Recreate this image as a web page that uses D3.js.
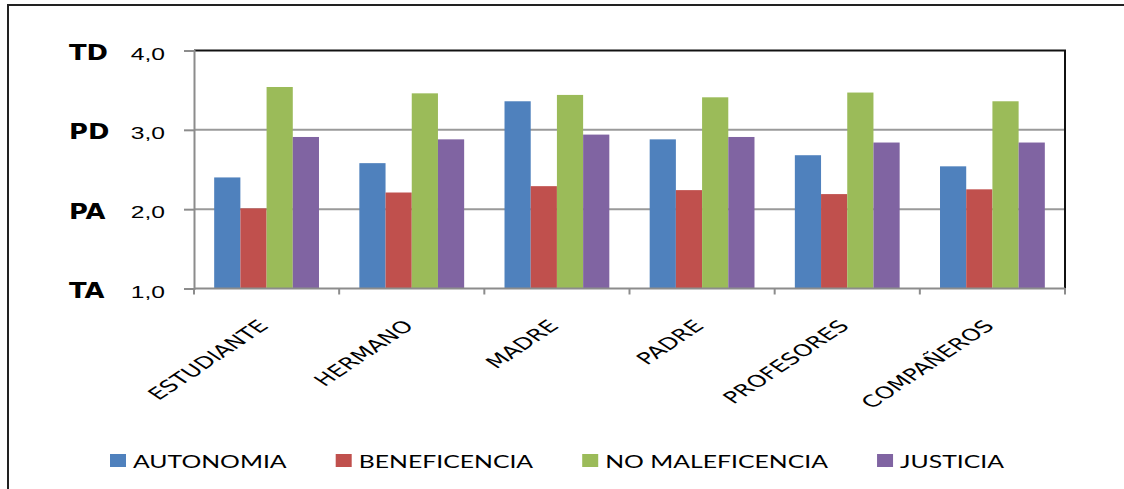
<!DOCTYPE html>
<html>
<head>
<meta charset="utf-8">
<script src="https://cdn.jsdelivr.net/npm/d3@7"></script>
<style>
    body { margin: 0; background: #fff; }
    svg { display: block; font-family: 'DejaVu Sans', sans-serif; }
</style>
</head>
<body>
<div id="chart"></div>
<script>
    const categories = ['ESTUDIANTE', 'HERMANO', 'MADRE', 'PADRE', 'PROFESORES', 'COMPAÑEROS'];
    const seriesNames = ['AUTONOMIA', 'BENEFICENCIA', 'NO MALEFICENCIA', 'JUSTICIA'];
    const autonomia = [2.40, 2.58, 3.36, 2.88, 2.68, 2.54];
    const beneficencia = [2.01, 2.21, 2.29, 2.24, 2.19, 2.25];
    const noMaleficencia = [3.54, 3.46, 3.44, 3.41, 3.47, 3.36];
    const justicia = [2.91, 2.88, 2.94, 2.91, 2.84, 2.84];
    const yTicks = [1, 2, 3, 4];
    const yLevels = ['TA', 'PA', 'PD', 'TD'];

    const colors = ['#4F81BD', '#C0504D', '#9BBB59', '#8064A2'];
    const seriesValues = [autonomia, beneficencia, noMaleficencia, justicia];

    const width = 1124;
    const height = 489;
    const plot = { left: 194, right: 1065, top: 50.5, bottom: 288.5 };

    const svg = d3.select('#chart')
        .append('svg')
        .attr('width', width)
        .attr('height', height);

    svg.append('rect')
        .attr('width', width)
        .attr('height', height)
        .attr('fill', '#fff');

    //outer frame (cropped on right and bottom)
    svg.append('rect')
        .attr('x', 8)
        .attr('y', 5)
        .attr('width', width + 20)
        .attr('height', height + 20)
        .attr('fill', 'none')
        .attr('stroke', '#222')
        .attr('stroke-width', 2);

    //scales
    const x0 = d3.scaleBand()
        .domain(categories)
        .range([plot.left, plot.right])
        .padding(0);
    const x1 = d3.scaleBand()
        .domain(seriesNames)
        .range([0, x0.bandwidth()])
        .paddingInner(0)
        .paddingOuter(0.77);
    const y = d3.scaleLinear()
        .domain([1, 4])
        .range([plot.bottom, plot.top]);

    //grid lines
    svg.append('g')
        .selectAll('line')
        .data(yTicks.slice(1, -1))
        .join('line')
        .attr('x1', plot.left)
        .attr('x2', plot.right)
        .attr('y1', d => y(d))
        .attr('y2', d => y(d))
        .attr('stroke', '#9a9a9a')
        .attr('stroke-width', 2);

    //bars
    const groups = svg.append('g')
        .selectAll('g')
        .data(categories)
        .join('g')
        .attr('transform', d => `translate(${x0(d)},0)`);

    groups.selectAll('rect')
        .data((c, i) => seriesNames.map((s, j) => ({ s, j, v: seriesValues[j][i] })))
        .join('rect')
        .attr('x', d => x1(d.s))
        .attr('y', d => y(d.v))
        .attr('width', x1.bandwidth())
        .attr('height', d => y(1) - y(d.v))
        .attr('fill', d => colors[d.j]);

    //plot area border (top & right)
    svg.append('path')
        .attr('d', `M${plot.left},${plot.top}H${plot.right}V${plot.bottom}`)
        .attr('fill', 'none')
        .attr('stroke', '#111')
        .attr('stroke-width', 2);

    //y axis
    const yAxis = svg.append('g')
        .attr('transform', `translate(${plot.left},0)`)
        .call(
            d3.axisLeft(y)
                .tickValues(yTicks)
                .tickSize(10)
                .tickPadding(19)
                .tickFormat(d => d3.format('.1f')(d).replace('.', ','))
        );
    yAxis.select('.domain').attr('stroke', '#8c8c8c').attr('stroke-width', 2);
    yAxis.selectAll('.tick line').attr('stroke', '#8c8c8c').attr('stroke-width', 2);
    yAxis.selectAll('.tick text')
        .attr('x', null)
        .attr('dy', null)
        .attr('transform', 'translate(-29,8.5) scale(1.45,1)')
        .attr('fill', '#000')
        .style('font-size', '17px');

    //level labels TA / PA / PD / TD
    svg.append('g')
        .selectAll('text')
        .data(yTicks)
        .join('text')
        .attr('transform', d => `translate(69,${y(d) + 9.5}) scale(1.26,1)`)
        .style('font-size', '20.5px')
        .style('font-weight', 'bold')
        .attr('fill', '#000')
        .text((d, i) => yLevels[i]);

    //x axis
    const boundaries = categories.map(c => x0(c)).concat([plot.right]);
    const xAxis = svg.append('g');
    xAxis.append('line')
        .attr('x1', plot.left)
        .attr('x2', plot.right)
        .attr('y1', plot.bottom)
        .attr('y2', plot.bottom)
        .attr('stroke', '#8c8c8c')
        .attr('stroke-width', 2);
    xAxis.selectAll('.xtick')
        .data(boundaries)
        .join('line')
        .attr('class', 'xtick')
        .attr('x1', d => d)
        .attr('x2', d => d)
        .attr('y1', plot.bottom)
        .attr('y2', plot.bottom + 6)
        .attr('stroke', '#8c8c8c')
        .attr('stroke-width', 2);

    //category labels
    xAxis.selectAll('.xlabel')
        .data(categories)
        .join('text')
        .attr('class', 'xlabel')
        .attr('transform', d => `translate(${x0(d) + x0.bandwidth() / 2 + 3},327) scale(1.5,1) rotate(-45)`)
        .attr('text-anchor', 'end')
        .style('font-size', '16.5px')
        .attr('fill', '#000')
        .text(d => d);

    //legend: Calibri-like face, stretched so the row spans the same width as the original
    const legend = svg.append('g');
    const legendLeft = 110;
    const legendRight = 1004;
    const swatchGap = 23;
    const entryGap = 49;
    const labels = seriesNames.map((name, i) => legend.append('text')
        .style('font-family', 'Lato, sans-serif')
        .style('font-size', '17px')
        .attr('fill', '#000')
        .text(name));
    const rawWidths = labels.map(t => t.node().getComputedTextLength());
    const legendScale = (legendRight - legendLeft - seriesNames.length * swatchGap - (seriesNames.length - 1) * entryGap)
        / d3.sum(rawWidths);
    let lx = legendLeft;
    seriesNames.forEach((name, i) => {
        legend.append('rect')
            .attr('x', lx)
            .attr('y', 454)
            .attr('width', 16)
            .attr('height', 13)
            .attr('fill', colors[i]);
        labels[i].attr('transform', `translate(${lx + swatchGap},468) scale(${legendScale},1)`);
        lx += swatchGap + rawWidths[i] * legendScale + entryGap;
    });
</script>
</body>
</html>
